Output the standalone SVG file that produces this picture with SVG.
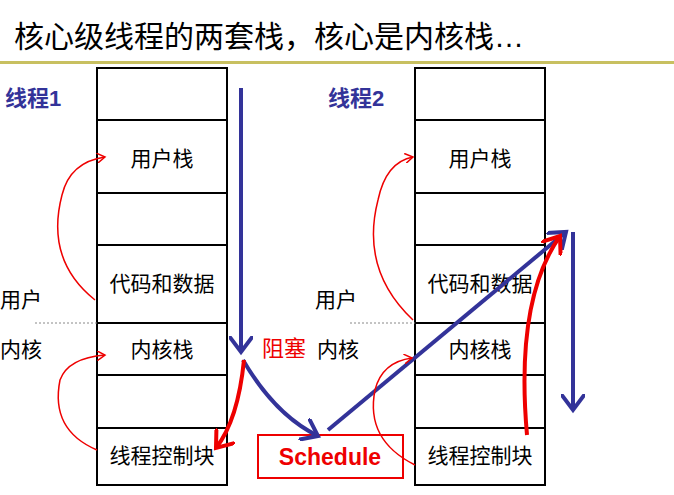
<svg xmlns="http://www.w3.org/2000/svg" width="674" height="495" viewBox="0 0 674 495">
<defs>
<style>
.t{font-family:"Liberation Sans","Noto Sans CJK SC",sans-serif;font-size:21px;fill:#000}
.h{font-family:"Liberation Sans","Noto Sans CJK SC",sans-serif;font-size:22px;font-weight:bold;fill:#333399}
.box{fill:#fff;stroke:#000;stroke-width:2}
.bl{fill:none;stroke:#333399;stroke-width:4}
.rd{fill:none;stroke:#e00;stroke-width:4}
.rt{fill:none;stroke:#e00;stroke-width:1.5}
</style>
<marker id="ab" markerWidth="6" markerHeight="6" refX="4" refY="3" orient="auto" markerUnits="strokeWidth"><path d="M0,0 L4,3 L0,6" fill="none" stroke="#333399" stroke-width="1"/></marker>
<marker id="ar" markerWidth="6" markerHeight="6" refX="4" refY="3" orient="auto" markerUnits="strokeWidth"><path d="M0,0 L4,3 L0,6" fill="none" stroke="#e00" stroke-width="1"/></marker>
<marker id="at" markerWidth="10" markerHeight="10" refX="8" refY="5" orient="auto" markerUnits="userSpaceOnUse"><path d="M0,0 L8,5 L0,10" fill="none" stroke="#e00" stroke-width="1.5"/></marker>
</defs>
<rect width="674" height="495" fill="#fff"/>
<text x="14" y="47" font-family="Liberation Sans,Noto Sans CJK SC,sans-serif" font-size="30" fill="#000">核心级线程的两套栈，核心是内核栈…</text>
<rect x="0" y="61" width="674" height="3" fill="#c8c060"/>
<g id="stack1">
<rect class="box" x="97" y="68" width="130" height="52"/>
<rect class="box" x="97" y="120" width="130" height="73"/>
<rect class="box" x="97" y="193" width="130" height="52"/>
<rect class="box" x="97" y="245" width="130" height="78"/>
<rect class="box" x="97" y="323" width="130" height="52"/>
<rect class="box" x="97" y="375" width="130" height="53"/>
<rect class="box" x="97" y="428" width="130" height="57"/>
<text class="t" x="162" y="166" text-anchor="middle">用户栈</text>
<text class="t" x="162" y="291" text-anchor="middle">代码和数据</text>
<text class="t" x="162" y="357" text-anchor="middle">内核栈</text>
<text class="t" x="162" y="463" text-anchor="middle">线程控制块</text>
</g>
<g id="stack2">
<rect class="box" x="415" y="68" width="130" height="52"/>
<rect class="box" x="415" y="120" width="130" height="73"/>
<rect class="box" x="415" y="193" width="130" height="52"/>
<rect class="box" x="415" y="245" width="130" height="78"/>
<rect class="box" x="415" y="323" width="130" height="52"/>
<rect class="box" x="415" y="375" width="130" height="53"/>
<rect class="box" x="415" y="428" width="130" height="57"/>
<text class="t" x="480" y="166" text-anchor="middle">用户栈</text>
<text class="t" x="480" y="291" text-anchor="middle">代码和数据</text>
<text class="t" x="480" y="357" text-anchor="middle">内核栈</text>
<text class="t" x="480" y="463" text-anchor="middle">线程控制块</text>
</g>
<g id="labels">
<text class="h" x="5" y="106">线程1</text>
<text class="h" x="328" y="106">线程2</text>
<text class="t" x="0" y="307">用户</text>
<text class="t" x="0" y="357">内核</text>
<text class="t" x="315" y="307">用户</text>
<text class="t" x="317" y="357">内核</text>
<text x="262" y="356" font-family="Liberation Sans,Noto Sans CJK SC,sans-serif" font-size="22" fill="#e00">阻塞</text>
<line x1="35" y1="323" x2="97" y2="323" stroke="#888" stroke-dasharray="2,2"/>
<line x1="350" y1="323" x2="415" y2="323" stroke="#888" stroke-dasharray="2,2"/>
</g>
<g id="schedule">
<rect x="258" y="435" width="145" height="43" fill="#fff" stroke="#e00" stroke-width="2"/>
<text x="330" y="465" text-anchor="middle" font-family="Liberation Sans,sans-serif" font-size="23" font-weight="bold" fill="#e00">Schedule</text>
</g>
<g id="connectors">
<path class="bl" d="M241,88 L241,352" marker-end="url(#ab)"/>
<path class="bl" d="M243,360 Q275,415 318,436" marker-end="url(#ab)"/>
<path class="bl" d="M328,430 L566,232" marker-end="url(#ab)"/>
<path class="bl" d="M573,232 L573,410" marker-end="url(#ab)"/>
<path class="rd" d="M527,435 Q515,300 560,236" marker-end="url(#ar)"/>
<path class="rd" d="M244,360 Q238,420 216,448" marker-end="url(#ar)"/>
<path class="rt" d="M95,300 Q45,260 62,195 Q70,162 105,157" marker-end="url(#at)"/>
<path class="rt" d="M97,450 Q50,430 60,380 Q68,358 105,355" marker-end="url(#at)"/>
<path class="rt" d="M413,320 Q360,270 378,200 Q386,162 413,157" marker-end="url(#at)"/>
<path class="rt" d="M415,465 Q365,440 375,390 Q382,362 412,358" marker-end="url(#at)"/>
</g>
</svg>
